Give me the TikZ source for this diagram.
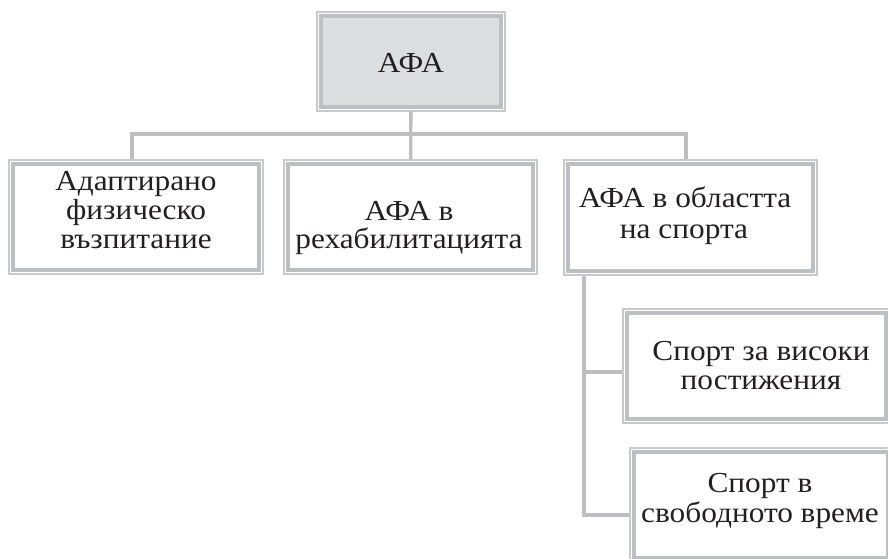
\documentclass[tikz,border=0pt]{standalone}
\usepackage{fontspec}
\setmainfont[FakeStretch=1.08]{Liberation Serif}
\definecolor{thickc}{RGB}{190,191,195}
\definecolor{thinc}{RGB}{202,202,205}
\definecolor{connc}{RGB}{190,190,193}
\definecolor{topfill}{RGB}{221,222,224}
\definecolor{txtc}{RGB}{35,31,32}
\tikzset{
  boxo/.style={rectangle, draw=thinc, line width=1.2pt, inner sep=0pt},
  boxi/.style={draw=thickc, line width=4pt},
  conn/.style={draw=connc, line width=3.4pt, line join=miter},
  txt/.style={anchor=base, inner sep=0pt, text=txtc, font=\fontsize{29}{31}\selectfont}
}
\begin{document}
\begin{tikzpicture}[x=1pt,y=-1pt]
\useasboundingbox (0,0) rectangle (888,558);
\clip (0,0) rectangle (888,558);
% boxes
\node[boxo, minimum width=188pt, minimum height=99pt] (top) at (411,61.5) {};
\node[boxo, minimum width=254pt, minimum height=114pt] (l) at (136,217) {};
\node[boxo, minimum width=253pt, minimum height=114pt] (m) at (410.5,217) {};
\node[boxo, minimum width=253pt, minimum height=115pt] (r) at (690.5,217.5) {};
\node[boxo, minimum width=267pt, minimum height=114pt] (s1) at (756.5,366) {};
\node[boxo, minimum width=262pt, minimum height=114pt] (s2) at (761,505) {};
% inner thick frames
\draw[boxi, fill=topfill] ([xshift=5pt,yshift=-5pt]top.north west) rectangle ([xshift=-5pt,yshift=5pt]top.south east);
\foreach \n in {l,m,r,s1,s2}
  \draw[boxi] ([xshift=5pt,yshift=-5pt]\n.north west) rectangle ([xshift=-5pt,yshift=5pt]\n.south east);
% connectors
\coordinate (hub) at (411,134);
\draw[conn] (top) -- (m);
\draw[conn] ([xshift=-4pt]l.north) |- (hub) -| ([xshift=-4.5pt]r.north);
\coordinate (rs) at ([xshift=-106.5pt]r.south);
\draw[conn] (rs) |- ([yshift=-6pt]s1.west);
\draw[conn] (rs) |- ([yshift=-10pt]s2.west);
% texts
\node[txt] (toptext) at (411,72) {АФА};
\node[txt] (lt1) at (136,190) {Адаптирано};
\node[txt] (lt2) at (136,219) {физическо};
\node[txt] (lt3) at (136,248) {възпитание};
\node[txt] (mt1) at (409,220) {АФА в};
\node[txt] (mt2) at (409,248) {рехабилитацията};
\node[txt] (rt1) at (685,207) {АФА в областта};
\node[txt] (rt2) at (684,238) {на спорта};
\node[txt] (s1t1) at (761,360) {Спорт за високи};
\node[txt] (s1t2) at (761,389) {постижения};
\node[txt] (s2t1) at (760,492) {Спорт в};
\node[txt] (s2t2) at (760,522) {свободното време};
\end{tikzpicture}
\end{document}
